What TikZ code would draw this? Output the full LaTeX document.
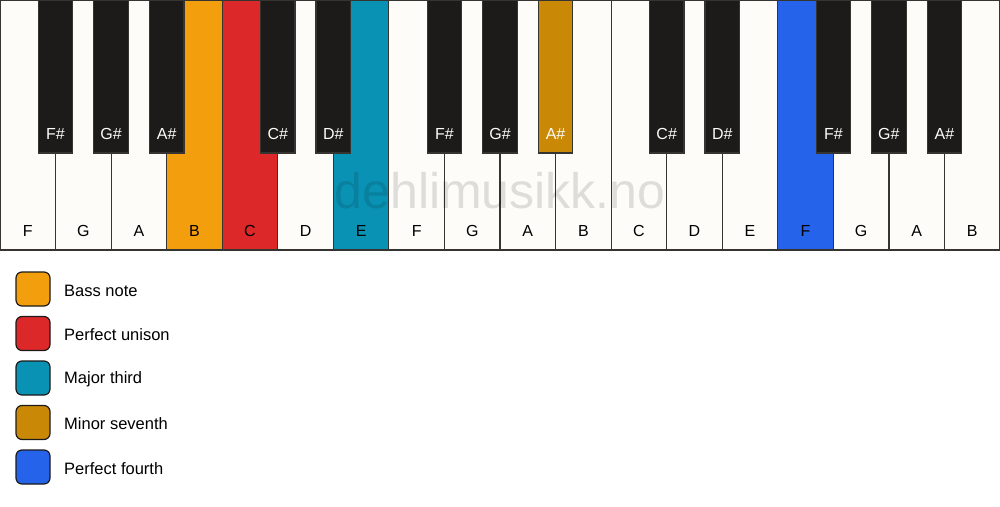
\documentclass[tikz,border=0pt]{standalone}
\usepackage{fontspec}
\setmainfont{Liberation Sans}
\definecolor{ivory}{HTML}{FDFCF8}
\definecolor{ebony}{HTML}{1C1B19}
\definecolor{edge}{HTML}{363430}
\definecolor{bassc}{HTML}{F39F0D}
\definecolor{unisonc}{HTML}{DC2828}
\definecolor{thirdc}{HTML}{0A92B5}
\definecolor{seventhc}{HTML}{C98806}
\definecolor{fourthc}{HTML}{2563EB}
\tikzset{
  whitekey/.style={draw=edge, line width=1.2pt, anchor=north west, minimum width=55.556pt, minimum height=250pt, inner sep=0pt, outer sep=0pt},
  blackkey/.style={draw=edge, line width=1.2pt, anchor=north, minimum width=34.5pt, minimum height=153pt, inner sep=0pt, outer sep=0pt},
  wlabel/.style={font=\fontsize{16}{19}\selectfont, text=black, inner sep=0pt},
  blabel/.style={font=\fontsize{16}{19}\selectfont, text=ivory, inner sep=0pt},
  legbox/.style={draw=ebony, line width=1.2pt, rounded corners=6pt, minimum width=34pt, minimum height=34pt, inner sep=0pt},
  legtext/.style={font=\fontsize{16.5}{19}\selectfont, anchor=west, inner sep=0pt},
  watermark/.style={font=\fontsize{50}{60}\selectfont, text=black, text opacity=0.12, inner sep=0pt}
}
\begin{document}
\begin{tikzpicture}[x=1pt,y=-1pt]
\useasboundingbox (0,0) rectangle (1000,506);
\fill[white] (0,0) rectangle (1000,506);
% white keys
\foreach \n/\c [count=\i from 0] in {F/ivory,G/ivory,A/ivory,B/bassc,C/unisonc,D/ivory,E/thirdc,F/ivory,G/ivory,A/ivory,B/ivory,C/ivory,D/ivory,E/ivory,F/fourthc,G/ivory,A/ivory,B/ivory}{
  \node[whitekey, fill=\c] (w\i) at (\i*55.556,0) {};
  \node[wlabel] (lw\i) at (\i*55.556+27.778,230.5) {\n};
}
% watermark
\node[watermark] (wm) at (500,191) {dehlimusikk.no};
% black keys
\foreach \n/\k/\c in {F\#/0/ebony,G\#/1/ebony,A\#/2/ebony,C\#/4/ebony,D\#/5/ebony,F\#/7/ebony,G\#/8/ebony,A\#/9/seventhc,C\#/11/ebony,D\#/12/ebony,F\#/14/ebony,G\#/15/ebony,A\#/16/ebony}{
  \node[blackkey, fill=\c] (b\k) at (\k*55.556+55.556,0) {};
  \node[blabel] (lb\k) at (\k*55.556+55.556,133.5) {\n};
}
% legend
\foreach \c/\t [count=\j from 0] in {bassc/Bass note,unisonc/Perfect unison,thirdc/Major third,seventhc/Minor seventh,fourthc/Perfect fourth}{
  \node[legbox, fill=\c] (k\j) at (33,289+\j*44.5) {};
  \node[legtext] (t\j) at (64,290.5+\j*44.5) {\t};
}
\end{tikzpicture}
\end{document}
